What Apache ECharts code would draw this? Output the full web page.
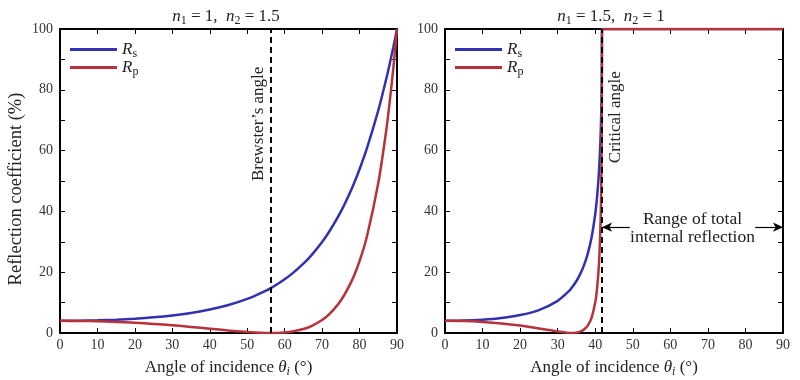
<!DOCTYPE html>
<html><head><meta charset="utf-8">
<script src="https://cdn.jsdelivr.net/npm/echarts@6/dist/echarts.min.js"></script>
<style>html,body{margin:0;padding:0;background:#fff}#c{width:800px;height:380px}</style>
</head><body><div id="c"></div>
<script>
// Left panel: n1 = 1, n2 = 1.5
const anglesLeft = [0,5,10,15,20,25,30,35,40,45,50,55,56.31,58,60,62,65,67,70,72,75,78,80,82,85,87,88,89,90];
const rsLeft =     [4.0,4.04,4.17,4.38,4.71,5.16,5.78,6.61,7.72,9.20,11.2,13.93,14.79,16.02,17.66,19.52,22.81,25.39,29.96,33.56,39.94,47.73,53.86,60.86,73.23,82.93,88.26,93.95,100];
const rpLeft =     [4.0,3.96,3.84,3.63,3.35,2.98,2.53,2.00,1.43,0.85,0.33,0.02,0,0.03,0.18,0.47,1.30,2.19,4.25,6.27,10.68,17.39,23.68,31.93,49.32,65.54,75.48,86.89,100];
// Right panel: n1 = 1.5, n2 = 1
const anglesRight = [0,5,10,15,20,25,30,33,33.69,35,36,37,38,39,40,40.5,41,41.4,41.6,41.75,41.81,45,50,60,70,80,90];
const rsRight =     [4.0,4.09,4.39,4.95,5.91,7.55,10.58,13.79,14.79,17.11,19.37,22.24,26.01,31.22,39.05,44.83,53.10,63.67,72.35,84.06,100,100,100,100,100,100,100];
const rpRight =     [4.0,3.91,3.63,3.15,2.44,1.51,0.46,0.02,0,0.12,0.45,1.13,2.43,4.92,10.00,14.73,22.85,35.55,47.96,67.59,100,100,100,100,100,100,100];
const brewsterAngle = 56.31;
const criticalAngle = 41.81;
const xTicks = {min:0, max:90, interval:10};
const yTicks = {min:0, max:100, interval:10};

const zip = (a,b) => a.map((x,i)=>[x,b[i]]);
const FONT = '"Liberation Serif","DejaVu Serif",serif';
const BLUE = '#3232b0', RED = '#b7323a';
function mkRich(fs){
  const sfs = Math.round(fs*0.7);
  return {
    i:{fontFamily:FONT,fontStyle:'italic',fontWeight:'normal',fontSize:fs,color:'#222'},
    t:{fontFamily:FONT,fontWeight:'normal',fontSize:fs,color:'#222'},
    sub:{fontFamily:FONT,fontWeight:'normal',fontSize:sfs,color:'#222',padding:[Math.round(fs*0.55),0,0,0]},
    subi:{fontFamily:FONT,fontStyle:'italic',fontWeight:'normal',fontSize:sfs,color:'#222',padding:[Math.round(fs*0.55),0,0,0]}
  };
}
const rich17 = mkRich(17);

function xAx(grid, pos){
  return {gridIndex:grid, type:'value', position:pos, min:xTicks.min, max:xTicks.max, interval:xTicks.interval,
    axisLine:{show:true, onZero:false, lineStyle:{color:'#000',width:2}},
    axisTick:{show:true, inside:true, length:5, lineStyle:{color:'#000',width:1}},
    splitLine:{show:false},
    axisLabel:{show:pos==='bottom', margin:5, fontFamily:FONT, fontSize:14, color:'#333'},
    name: pos==='bottom' ? '{t|Angle of incidence }{i|θ}{subi|i}{t| (°)}' : '',
    nameLocation:'middle', nameGap:24, nameTextStyle:{rich:rich17}};
}
function yAx(grid, pos, showName){
  return {gridIndex:grid, type:'value', position:pos, min:yTicks.min, max:yTicks.max, interval:yTicks.interval,
    axisLine:{show:true, onZero:false, lineStyle:{color:'#000',width:2}},
    axisTick:{show:true, inside:true, length:5, lineStyle:{color:'#000',width:1}},
    splitLine:{show:false},
    axisLabel:{show:pos==='left', margin:7, fontFamily:FONT, fontSize:14, color:'#333',
      formatter:v => (v%20===0 ? String(v) : '')},
    name: showName ? 'Reflection coefficient (%)' : '',
    nameLocation:'middle', nameGap:34,
    nameTextStyle:{fontFamily:FONT,fontSize:18.5,color:'#222',padding:[0,16,0,0]}};
}

const dash = {color:'#000', width:2, type:[6,4]};
function lineSeries(name, color, x, y, ax, extra){
  return Object.assign({name:name, type:'line', xAxisIndex:ax, yAxisIndex:ax, data:zip(x,y),
    showSymbol:false, smooth:0.3, clip:true, lineStyle:{color:color,width:2.5}, itemStyle:{color:color}}, extra||{});
}

const legendFmt = n => n==='Rs' ? '{i|R}{sub|s}' : '{i|R}{sub|p}';
function legend(left){
  return {left:left, top:36, orient:'vertical', icon:'rect', itemWidth:47, itemHeight:3, itemGap:-1,
    data:['Rs','Rp'], formatter:legendFmt, textStyle:{rich:rich17, lineHeight:16}};
}

const option = {
  animation:false,
  title:[
    {text:'{i|n}{sub|1}{t| = 1,  }{i|n}{sub|2}{t| = 1.5}', left:221, top:1, textAlign:'center', textStyle:{rich:rich17, fontWeight:'normal'}},
    {text:'{i|n}{sub|1}{t| = 1.5,  }{i|n}{sub|2}{t| = 1}', left:606, top:1, textAlign:'center', textStyle:{rich:rich17, fontWeight:'normal'}}
  ],
  legend:[legend(65), legend(450)],
  grid:[
    {left:60, right:403, top:29, bottom:47, containLabel:false, outerBoundsMode:'none'},
    {left:445, right:17, top:29, bottom:47, containLabel:false, outerBoundsMode:'none'}
  ],
  xAxis:[xAx(0,'bottom'), xAx(1,'bottom'), xAx(0,'top'), xAx(1,'top')],
  yAxis:[yAx(0,'left',true), yAx(1,'left',false), yAx(0,'right',false), yAx(1,'right',false)],
  series:[
    lineSeries('Rs', BLUE, anglesLeft, rsLeft, 0),
    lineSeries('Rp', RED, anglesLeft, rpLeft, 0, {
      markLine:{silent:true, symbol:'none', lineStyle:dash, label:{show:false},
        data:[[{coord:[brewsterAngle,0]},{coord:[brewsterAngle,100]}]]},
      markPoint:{silent:true, symbol:'circle', symbolSize:0,
        data:[{coord:[53.0,68.8], label:{show:true, formatter:'Brewster\u2019s angle', rotate:90,
          fontFamily:FONT, fontSize:17, color:'#222'}}]}
    }),
    lineSeries('Rs', BLUE, anglesRight, rsRight, 1),
    lineSeries('Rp', RED, anglesRight, rpRight, 1, {
      markLine:{silent:true, label:{show:false},
        data:[
          [{coord:[criticalAngle,0], symbol:'none', lineStyle:dash},{coord:[criticalAngle,100], symbol:'none'}],
          [{coord:[criticalAngle,34.8], symbol:'arrow', lineStyle:{color:'#000',width:1.2,type:'solid'}},{coord:[49.2,34.8], symbol:'none'}],
          [{coord:[82.6,34.8], symbol:'none', lineStyle:{color:'#000',width:1.2,type:'solid'}},{coord:[90,34.8], symbol:'arrow'}]
        ], symbolSize:[7,10]},
      markPoint:{silent:true, symbol:'circle', symbolSize:0,
        data:[
          {coord:[45.4,71.0], label:{show:true, formatter:'Critical angle', rotate:90, fontFamily:FONT, fontSize:17, color:'#222'}},
          {coord:[65.9,34.5], label:{show:true, formatter:'Range of total\ninternal reflection', fontFamily:FONT, fontSize:17.5, lineHeight:18, color:'#222', align:'center'}}
        ]}
    })
  ]
};
const chart = echarts.init(document.getElementById('c'));
chart.setOption(option);
</script>
</body></html>
